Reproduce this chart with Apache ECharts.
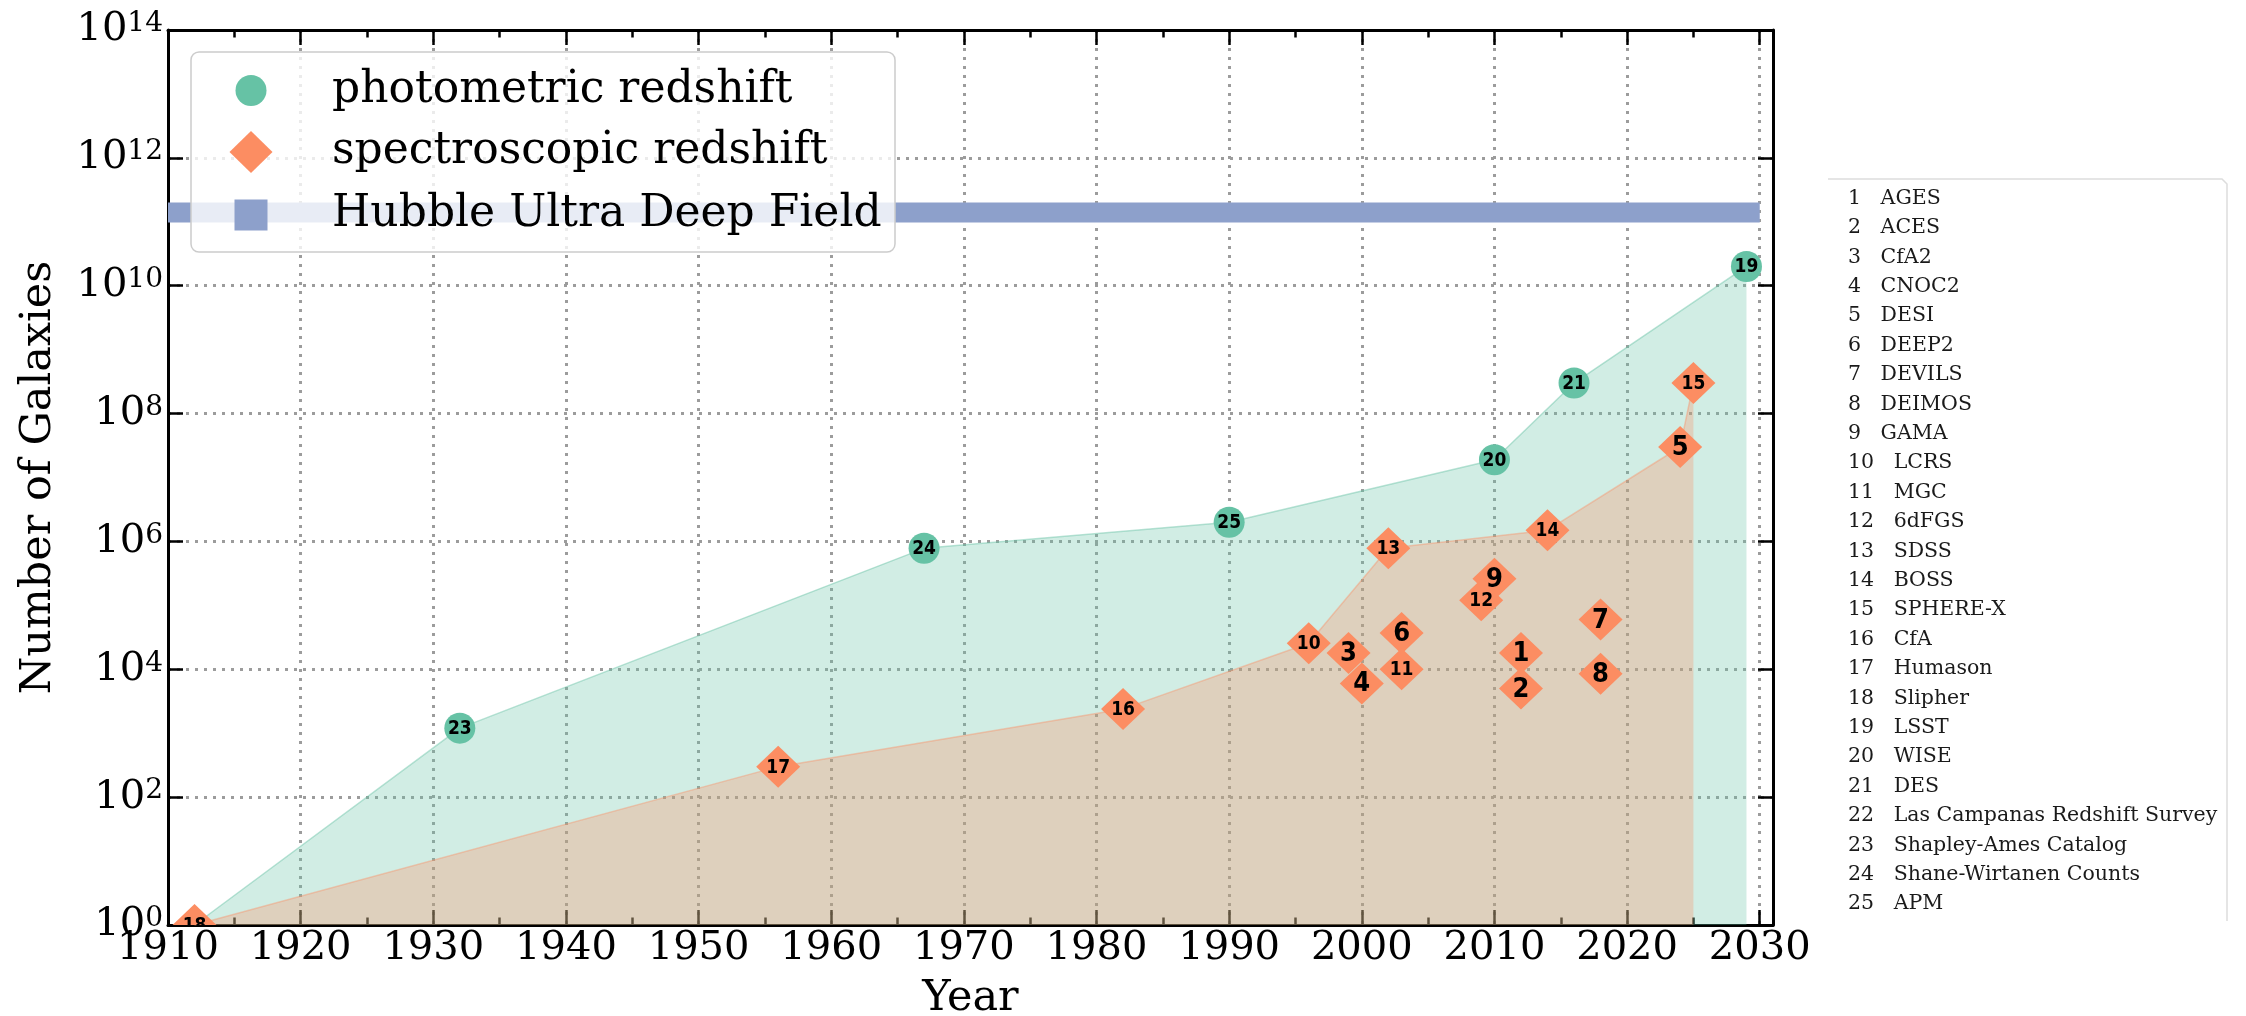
<!DOCTYPE html>
<html><head><meta charset="utf-8">
<script src="https://cdn.jsdelivr.net/npm/echarts@6/dist/echarts.min.js"></script>
<style>html,body{margin:0;padding:0;background:#fff}#chart{width:2246px;height:1016px}</style>
</head><body><div id="chart"></div>
<script>
// ---- data ----
const surveyNames = ['AGES','ACES','CfA2','CNOC2','DESI','DEEP2','DEVILS','DEIMOS','GAMA','LCRS','MGC','6dFGS','SDSS','BOSS','SPHERE-X','CfA','Humason','Slipher','LSST','WISE','DES','Las Campanas Redshift Survey','Shapley-Ames Catalog','Shane-Wirtanen Counts','APM'];
const surveyYears = [2012,2012,1999,2000,2024,2003,2018,2018,2010,1996,2003,2009,2002,2014,2025,1982,1956,1912,2029,2010,2016,null,1932,1967,1990];
const surveyGalaxies = [1.8e4,5e3,1.8e4,6e3,3e7,3.7e4,6e4,8.5e3,2.6e5,2.55e4,1e4,1.2e5,7.8e5,1.5e6,3e8,2.4e3,300,1,2e10,1.9e7,3e8,null,1.2e3,7.8e5,2e6];
const surveyMethod = ['spec','spec','spec','spec','spec','spec','spec','spec','spec','spec','spec','spec','spec','spec','spec','spec','spec','spec','phot','phot','phot','spec','phot','phot','phot'];
const hubbleUDFYears = [1910, 2030];
const hubbleUDFCount = 1.4e11;
const legendNames = ['photometric redshift','spectroscopic redshift','Hubble Ultra Deep Field'];

// ---- derived tables ----
function points(method) {
  const out = [];
  surveyYears.forEach((y, i) => {
    if (y != null && surveyGalaxies[i] != null && (method === null || surveyMethod[i] === method))
      out.push([y, surveyGalaxies[i], i + 1, surveyMethod[i] === 'phot' ? 0 : 1]);
  });
  return out;
}
function envelope(method) {
  const pts = points(method).map(p => [p[0], p[1]]).sort((a, b) => a[0] - b[0] || a[1] - b[1]);
  const out = []; let m = -Infinity;
  for (const p of pts) if (p[1] > m) { out.push(p); m = p[1]; }
  return out;
}
const photPts = points('phot');
const specPts = points('spec');
const allEnvelope = envelope(null);
const specEnvelope = envelope('spec');

const GREEN = '#66c2a5', ORANGE = '#fc8d62', BLUE = '#8da0cb';
const gridLine = {show: true, lineStyle: {color: '#9c9c9c', width: 3, type: [3, 6]}};
const serif = 'DejaVu Serif';
const markFont = '"DejaVu Sans Condensed", "DejaVu Sans", sans-serif';

function renderMarker(params, api) {
  const p = api.coord([api.value(0), api.value(1)]);
  const id = String(api.value(2));
  const kind = api.value(3);
  const fs = id.length > 1 ? 19 : 27;
  const mark = kind === 0
    ? {type: 'circle', z2: 1, shape: {cx: p[0], cy: p[1], r: 15.5}, style: {fill: GREEN}}
    : {type: 'polygon', z2: 1, shape: {points: [[p[0], p[1] - 21], [p[0] + 22, p[1]], [p[0], p[1] + 21], [p[0] - 22, p[1]]]}, style: {fill: ORANGE}};
  return {type: 'group', children: [mark, {type: 'text', z2: 20, style: {text: id, x: p[0], y: p[1] + 1, align: 'center', verticalAlign: 'middle', fontFamily: markFont, fontWeight: 'bold', fontSize: fs, fill: '#000'}}]};
}

const xBase = {type: 'value', min: 1910, max: 2031, gridIndex: 0};
const chart = echarts.init(document.getElementById('chart'), null, {renderer: 'canvas'});
chart.setOption({
  animation: false,
  backgroundColor: '#fff',
  grid: {left: 168, top: 30, width: 1605, height: 895, containLabel: false, outerBoundsMode: 'none'},
  xAxis: [
    Object.assign({}, xBase, {
      position: 'bottom', interval: 10,
      axisLine: {show: true, onZero: false, lineStyle: {color: '#000', width: 3}},
      axisTick: {show: true, inside: true, length: 15, lineStyle: {color: '#000', width: 2.5}},
      axisLabel: {show: true, margin: 4, showMaxLabel: false, formatter: v => (v % 10 === 0 ? String(v) : ''), fontFamily: serif, fontSize: 40, color: '#000'},
      splitLine: gridLine,
      name: 'Year', nameLocation: 'middle', nameGap: 52,
      nameTextStyle: {fontFamily: serif, fontSize: 43, color: '#000'}
    }),
    Object.assign({}, xBase, {
      position: 'bottom', interval: 5,
      axisLine: {show: false, onZero: false},
      axisTick: {show: true, inside: true, length: 7.5, lineStyle: {color: '#000', width: 2.5}},
      axisLabel: {show: false}, splitLine: {show: false}
    }),
    Object.assign({}, xBase, {
      position: 'top', interval: 10,
      axisLine: {show: true, onZero: false, lineStyle: {color: '#000', width: 3}},
      axisTick: {show: true, inside: true, length: 15, lineStyle: {color: '#000', width: 2.5}},
      axisLabel: {show: false}, splitLine: {show: false}
    }),
    Object.assign({}, xBase, {
      position: 'top', interval: 5,
      axisLine: {show: false, onZero: false},
      axisTick: {show: true, inside: true, length: 7.5, lineStyle: {color: '#000', width: 2.5}},
      axisLabel: {show: false}, splitLine: {show: false}
    })
  ],
  yAxis: [
    {
      type: 'log', logBase: 100, min: 1, max: 1e14, position: 'left',
      axisLine: {show: true, onZero: false, lineStyle: {color: '#000', width: 3}},
      axisTick: {show: true, inside: true, length: 15, lineStyle: {color: '#000', width: 2.5}},
      axisLabel: {
        show: true, margin: 5,
        formatter: v => '{b|10}{s|' + Math.round(Math.log10(v)) + '}',
        rich: {
          b: {fontFamily: serif, fontSize: 40, lineHeight: 40, color: '#000'},
          s: {fontFamily: serif, fontSize: 28, lineHeight: 24, verticalAlign: 'top', color: '#000'}
        }
      },
      splitLine: gridLine,
      name: 'Number of Galaxies', nameLocation: 'middle', nameGap: 108,
      nameTextStyle: {fontFamily: serif, fontSize: 43, color: '#000'}
    },
    {
      type: 'log', logBase: 100, min: 1, max: 1e14, position: 'right',
      axisLine: {show: true, onZero: false, lineStyle: {color: '#000', width: 3}},
      axisTick: {show: true, inside: true, length: 15, lineStyle: {color: '#000', width: 2.5}},
      axisLabel: {show: false}, splitLine: {show: false}
    }
  ],
  legend: [
    {data: [{name: legendNames[0], icon: 'circle'}], left: 235.5, top: 68.5, padding: 0, itemWidth: 31, itemHeight: 31,
     textStyle: {fontFamily: serif, fontSize: 44, color: '#000', lineHeight: 31, padding: [0, 0, 0, 60.5]}, z: 10},
    {data: [{name: legendNames[1], icon: 'diamond'}], left: 229.5, top: 130, padding: 0, itemWidth: 43, itemHeight: 42,
     textStyle: {fontFamily: serif, fontSize: 44, color: '#000', lineHeight: 42, padding: [0, 0, 0, 54.5]}, z: 10},
    {data: [{name: legendNames[2], icon: 'rect'}], left: 234.5, top: 193, padding: 0, itemWidth: 33, itemHeight: 31,
     textStyle: {fontFamily: serif, fontSize: 44, color: '#000', lineHeight: 31, padding: [0, 0, 0, 59.5]}, z: 10}
  ],
  graphic: [
    {type: 'rect', z: 5, shape: {x: 191, y: 52, width: 704, height: 200, r: 8}, style: {fill: 'rgba(255,255,255,0.8)', stroke: '#cccccc', lineWidth: 1.5}},
    {type: 'polyline', z: 5, shape: {points: [[1828, 179], [2222, 179], [2227, 184], [2227, 921]]}, style: {stroke: '#dddddd', lineWidth: 1.5, fill: null}}
  ].concat(surveyNames.map((n, i) => ({
    type: 'text', z: 5, x: 1848, y: 198.5 + i * 29.4,
    style: {text: (i + 1) + '   ' + n, fontFamily: serif, fontSize: 20.5, fill: '#1a1a1a', verticalAlign: 'middle'}
  }))),
  series: [
    {name: 'photometric envelope', type: 'line', data: allEnvelope, showSymbol: false, symbol: 'none', z: 1, clip: true,
     lineStyle: {color: 'rgba(102,194,165,0.45)', width: 1.5}, areaStyle: {color: 'rgba(102,194,165,0.3)', opacity: 1}, silent: true},
    {name: 'spectroscopic envelope', type: 'line', data: specEnvelope, showSymbol: false, symbol: 'none', z: 1, clip: true,
     lineStyle: {color: 'rgba(252,141,98,0.4)', width: 1.5}, areaStyle: {color: 'rgba(252,141,98,0.3)', opacity: 1}, silent: true},
    {name: legendNames[2], type: 'line', data: hubbleUDFYears.map(y => [y, hubbleUDFCount]), symbol: 'none', z: 2, clip: true,
     color: BLUE, itemStyle: {color: BLUE}, lineStyle: {color: BLUE, width: 20, cap: 'butt'}},
    {name: legendNames[0], type: 'custom', renderItem: renderMarker, data: photPts, clip: true, z: 3,
     itemStyle: {color: GREEN}, encode: {x: 0, y: 1}, dimensions: ['year', 'count', 'id', 'kind']},
    {name: legendNames[1], type: 'custom', renderItem: renderMarker, data: specPts, clip: true, z: 3,
     itemStyle: {color: ORANGE}, encode: {x: 0, y: 1}, dimensions: ['year', 'count', 'id', 'kind']}
  ]
});
</script></body></html>
